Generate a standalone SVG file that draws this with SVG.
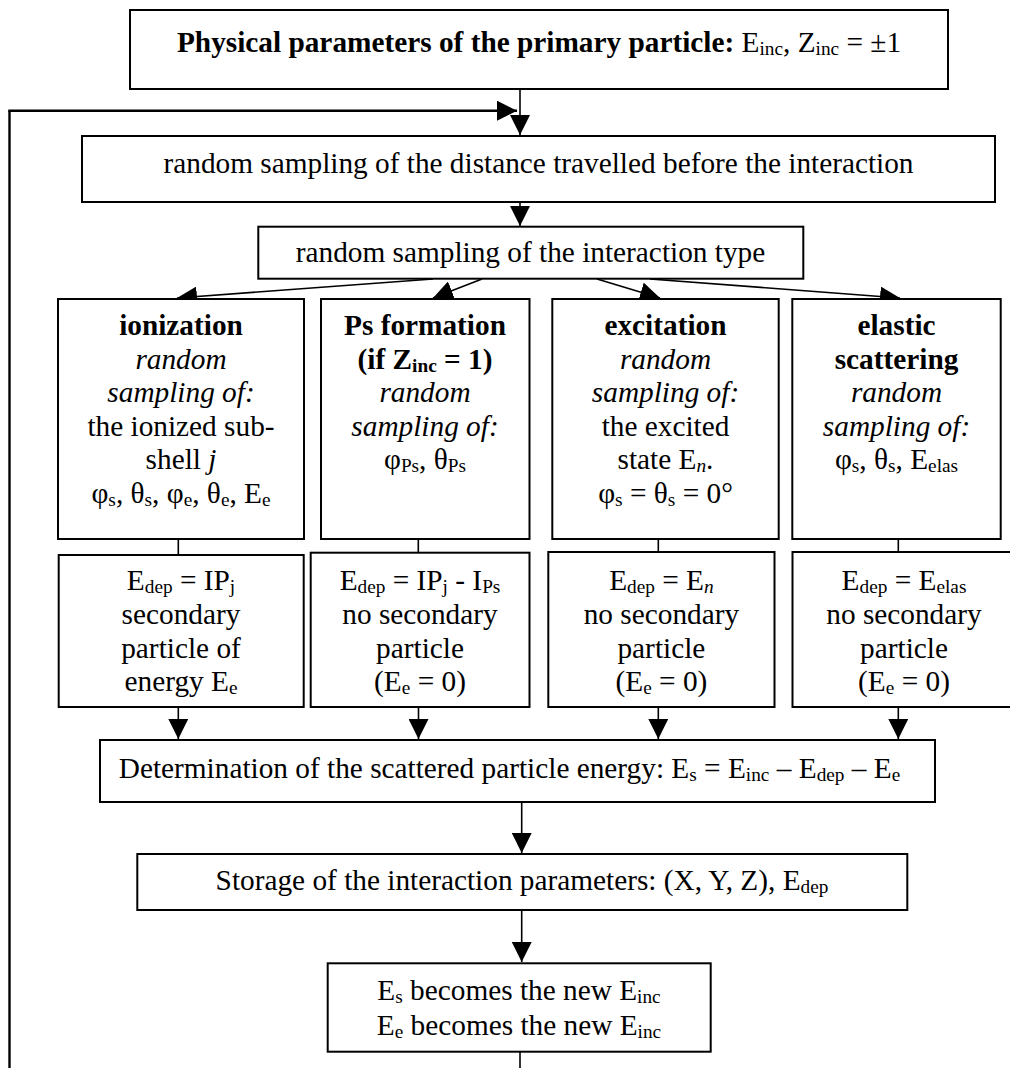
<svg xmlns="http://www.w3.org/2000/svg" width="1010" height="1068" viewBox="0 0 1010 1068">
<style>
.t{font-family:"Liberation Serif","Times New Roman",serif;font-size:29.3px;text-anchor:middle;fill:#000}
.b{font-weight:bold}
.i{font-style:italic}
.s{font-size:19.3px}
.box{fill:#fff;stroke:#000;stroke-width:2}
.c{stroke:#000;stroke-width:1.6;fill:none}
.a{marker-end:url(#ah)}
.loop{stroke:#000;stroke-width:2.4;fill:none}
</style>
<defs>
<marker id="ah" markerUnits="userSpaceOnUse" viewBox="0 0 20 20" refX="20" refY="10" markerWidth="20" markerHeight="20" orient="auto">
<path d="M0,0 L20,10 L0,20 z" fill="#000"/>
</marker>
</defs>
<rect width="1010" height="1068" fill="#fff"/>

<g id="connectors">
<line class="loop" x1="9.5" y1="1068" x2="9.5" y2="110.7"/>
<line class="loop a" x1="8.3" y1="110.7" x2="517" y2="110.7"/>
<line class="c a" x1="520" y1="89" x2="520" y2="135"/>
<line class="c a" x1="520" y1="202" x2="520" y2="226"/>
<line class="c a" x1="433" y1="279" x2="177" y2="298"/>
<line class="c a" x1="482" y1="279" x2="433" y2="298"/>
<line class="c a" x1="597" y1="279" x2="660" y2="298"/>
<line class="c a" x1="650" y1="279" x2="900" y2="298"/>
<line class="c" x1="178.3" y1="539" x2="178.3" y2="555"/>
<line class="c" x1="418.3" y1="539" x2="418.3" y2="553"/>
<line class="c" x1="658.3" y1="539" x2="658.3" y2="552"/>
<line class="c" x1="898.3" y1="539" x2="898.3" y2="552"/>
<line class="c a" x1="178.3" y1="707" x2="178.3" y2="739"/>
<line class="c a" x1="418.5" y1="707" x2="418.5" y2="739"/>
<line class="c a" x1="658.3" y1="707" x2="658.3" y2="739"/>
<line class="c a" x1="898.3" y1="707" x2="898.3" y2="739"/>
<line class="c a" x1="521.7" y1="802" x2="521.7" y2="853"/>
<line class="c a" x1="521.7" y1="910" x2="521.7" y2="962"/>
<line class="c" x1="520" y1="1052" x2="520" y2="1068"/>
</g>

<g id="n-primary">
<rect class="box" x="130" y="10" width="818" height="79"/>
<text class="t" x="539" y="52"><tspan class="b">Physical parameters of the primary particle:</tspan> E<tspan class="s" dy="3">inc</tspan><tspan dy="-3">, Z</tspan><tspan class="s" dy="3">inc</tspan><tspan dy="-3"> = ±1</tspan></text>
</g>

<g id="n-distance">
<rect class="box" x="82" y="136" width="913" height="66"/>
<text class="t" x="538.5" y="173">random sampling of the distance travelled before the interaction</text>
</g>

<g id="n-type">
<rect class="box" x="258.3" y="226.7" width="545" height="52"/>
<text class="t" x="530.5" y="262">random sampling of the interaction type</text>
</g>

<g id="n-ionization">
<rect class="box" x="58" y="299" width="246" height="240"/>
<text class="t b" x="181" y="335">ionization</text>
<text class="t i" x="181" y="368.5">random</text>
<text class="t i" x="181" y="402">sampling of:</text>
<text class="t" x="181" y="435.5">the ionized sub-</text>
<text class="t" x="181" y="469">shell <tspan class="i">j</tspan></text>
<text class="t" x="181" y="503">φ<tspan class="s" dy="3">s</tspan><tspan dy="-3">, θ</tspan><tspan class="s" dy="3">s</tspan><tspan dy="-3">, φ</tspan><tspan class="s" dy="3">e</tspan><tspan dy="-3">, θ</tspan><tspan class="s" dy="3">e</tspan><tspan dy="-3">, E</tspan><tspan class="s" dy="3">e</tspan></text>
</g>

<g id="n-ps">
<rect class="box" x="321" y="299" width="208.5" height="240"/>
<text class="t b" x="425" y="335">Ps formation</text>
<text class="t b" x="425" y="368.5">(if Z<tspan class="s" dy="3">inc</tspan><tspan dy="-3"> = 1)</tspan></text>
<text class="t i" x="425" y="402">random</text>
<text class="t i" x="425" y="435.5">sampling of:</text>
<text class="t" x="425" y="469">φ<tspan class="s" dy="3">Ps</tspan><tspan dy="-3">, θ</tspan><tspan class="s" dy="3">Ps</tspan></text>
</g>

<g id="n-excitation">
<rect class="box" x="552.3" y="299" width="226.4" height="240"/>
<text class="t b" x="665.5" y="335">excitation</text>
<text class="t i" x="665.5" y="368.5">random</text>
<text class="t i" x="665.5" y="402">sampling of:</text>
<text class="t" x="665.5" y="435.5">the excited</text>
<text class="t" x="665.5" y="469">state E<tspan class="s i" dy="3">n</tspan><tspan dy="-3">.</tspan></text>
<text class="t" x="665.5" y="503">φ<tspan class="s" dy="3">s</tspan><tspan dy="-3"> = θ</tspan><tspan class="s" dy="3">s</tspan><tspan dy="-3"> = 0°</tspan></text>
</g>

<g id="n-elastic">
<rect class="box" x="792.3" y="299" width="208.4" height="240"/>
<text class="t b" x="896.5" y="335">elastic</text>
<text class="t b" x="896.5" y="368.5">scattering</text>
<text class="t i" x="896.5" y="402">random</text>
<text class="t i" x="896.5" y="435.5">sampling of:</text>
<text class="t" x="896.5" y="469">φ<tspan class="s" dy="3">s</tspan><tspan dy="-3">, θ</tspan><tspan class="s" dy="3">s</tspan><tspan dy="-3">, E</tspan><tspan class="s" dy="3">elas</tspan></text>
</g>

<g id="n-ionization-dep">
<rect class="box" x="58.7" y="555" width="245" height="152"/>
<text class="t" x="181" y="590">E<tspan class="s" dy="3">dep</tspan><tspan dy="-3"> = IP</tspan><tspan class="s" dy="3">j</tspan></text>
<text class="t" x="181" y="624">secondary</text>
<text class="t" x="181" y="657.5">particle of</text>
<text class="t" x="181" y="691">energy E<tspan class="s" dy="3">e</tspan></text>
</g>

<g id="n-ps-dep">
<rect class="box" x="310.7" y="552.7" width="218.8" height="154.3"/>
<text class="t" x="420" y="590">E<tspan class="s" dy="3">dep</tspan><tspan dy="-3"> = IP</tspan><tspan class="s" dy="3">j</tspan><tspan dy="-3"> - I</tspan><tspan class="s" dy="3">Ps</tspan></text>
<text class="t" x="420" y="624">no secondary</text>
<text class="t" x="420" y="657.5">particle</text>
<text class="t" x="420" y="691">(E<tspan class="s" dy="3">e</tspan><tspan dy="-3"> = 0)</tspan></text>
</g>

<g id="n-excitation-dep">
<rect class="box" x="548.3" y="552" width="226.2" height="155"/>
<text class="t" x="661.4" y="590">E<tspan class="s" dy="3">dep</tspan><tspan dy="-3"> = E</tspan><tspan class="s i" dy="3">n</tspan></text>
<text class="t" x="661.4" y="624">no secondary</text>
<text class="t" x="661.4" y="657.5">particle</text>
<text class="t" x="661.4" y="691">(E<tspan class="s" dy="3">e</tspan><tspan dy="-3"> = 0)</tspan></text>
</g>

<g id="n-elastic-dep">
<rect class="box" x="792.5" y="552" width="223" height="155"/>
<text class="t" x="904" y="590">E<tspan class="s" dy="3">dep</tspan><tspan dy="-3"> = E</tspan><tspan class="s" dy="3">elas</tspan></text>
<text class="t" x="904" y="624">no secondary</text>
<text class="t" x="904" y="657.5">particle</text>
<text class="t" x="904" y="691">(E<tspan class="s" dy="3">e</tspan><tspan dy="-3"> = 0)</tspan></text>
</g>

<g id="n-determination">
<rect class="box" x="100" y="740" width="835" height="62"/>
<text class="t" x="509.5" y="778">Determination of the scattered particle energy: E<tspan class="s" dy="3">s</tspan><tspan dy="-3"> = E</tspan><tspan class="s" dy="3">inc</tspan><tspan dy="-3"> – E</tspan><tspan class="s" dy="3">dep</tspan><tspan dy="-3"> – E</tspan><tspan class="s" dy="3">e</tspan></text>
</g>

<g id="n-storage">
<rect class="box" x="137.3" y="854" width="770" height="56"/>
<text class="t" x="522" y="890">Storage of the interaction parameters: (X, Y, Z), E<tspan class="s" dy="3">dep</tspan></text>
</g>

<g id="n-new">
<rect class="box" x="327.7" y="963.3" width="383" height="88.4"/>
<text class="t" x="519" y="1000">E<tspan class="s" dy="3">s</tspan><tspan dy="-3"> becomes the new E</tspan><tspan class="s" dy="3">inc</tspan></text>
<text class="t" x="519" y="1035">E<tspan class="s" dy="3">e</tspan><tspan dy="-3"> becomes the new E</tspan><tspan class="s" dy="3">inc</tspan></text>
</g>
</svg>
